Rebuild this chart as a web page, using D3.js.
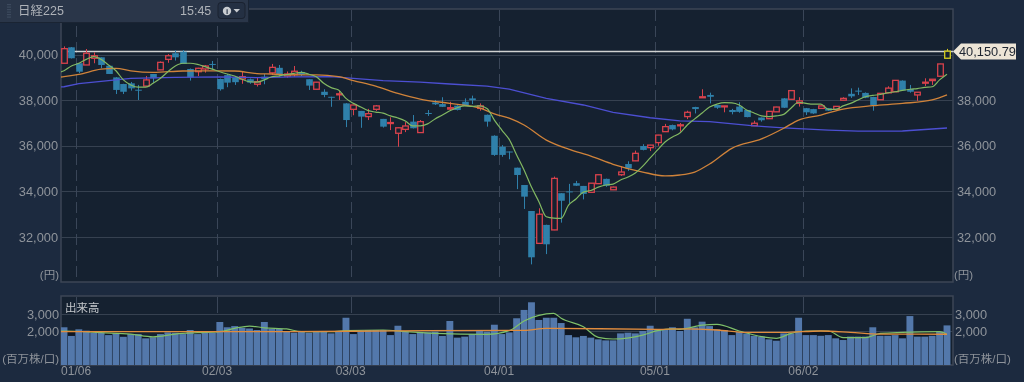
<!DOCTYPE html>
<html>
<head>
<meta charset="utf-8">
<style>
  html, body { margin: 0; padding: 0; background: #1c2a3f; }
  svg { display: block; filter: blur(0.3px); }
  text { font-family: "Liberation Sans", "Noto Sans CJK JP", sans-serif; }
</style>
<script src="https://cdn.jsdelivr.net/npm/d3@7"></script>
</head>
<body>
<svg id="chart" width="1024" height="382"></svg>
<script>
'use strict';

// candles, one per trading day (yen)
const opens = [39620,40320,39620,39545,39840,39880,39510,39000,38710,38740,38460,38620,39150,39330,39790,40060,40130,39370,39250,39370,39590,38930,39100,39000,38930,38920,38700,39030,39200,39420,39060,39120,39240,38920,38480,38370,38150,38250,37860,37600,37530,37280,37600,37180,36990,36550,36720,37060,36580,37440,37900,37830,37610,37760,37930,38080,37640,37360,36440,35960,35750,35040,34280,33140,31720,32530,32310,33920,34000,34360,34240,33960,34340,34550,34070,34730,35200,35340,35990,35920,36140,36620,36910,36890,37280,37700,38110,38230,37790,37730,37570,37720,37570,36880,37240,37190,37490,38080,38040,37860,37650,37610,37640,37650,37600,38000,38280,38420,38320,38140,38020,38320,38370,38860,38490,38230,38760,38860,39050,39840];
const highs = [40360,40330,39620,40245,40100,39880,39510,39010,38720,38800,38670,39060,39150,39700,40020,40190,40200,39390,39420,39545,39720,38950,39150,39040,39260,38950,38990,39150,39590,39545,39260,39500,39290,38920,38800,38480,38150,38400,37870,37800,37530,37620,37790,37180,37250,36810,37040,37350,37130,37570,38010,38130,37930,37780,38080,38200,37860,37370,36460,36030,35750,35040,34280,33140,33260,32540,34650,33920,34330,34460,34240,34360,34730,34560,34210,35100,35320,35790,36070,36040,36480,36960,36930,37000,37540,37710,38480,38330,37790,37750,37620,37910,37570,37100,37240,37520,37710,38090,38430,38130,37660,37620,37760,37660,37740,38130,38520,38550,38340,38150,38310,38610,38880,38870,38670,38360,38960,38930,39600,40250];
const lows = [39620,39830,39190,39545,39620,39400,39150,38270,38270,38420,38010,38620,38750,39320,39640,39740,39590,38860,39060,39210,39330,38420,38570,38670,38720,38720,38600,38700,39100,39030,38990,39030,39060,38450,38480,38130,37710,38010,36820,37340,36790,37130,37530,36800,36690,35960,36600,36760,36570,37310,37790,37700,37570,37550,37740,37830,37540,36840,35560,35520,35410,34100,33230,30800,31700,31250,32300,32630,33480,34240,33650,33950,34340,34200,34060,34680,34900,35330,35800,35770,36000,36610,36680,36620,37170,37420,38100,37860,37620,37470,37380,37450,37250,36870,37060,37180,37480,37660,38030,37720,37350,37400,37620,37530,37590,37990,38100,38230,38090,37540,38010,38310,38360,38420,38330,37970,38620,38670,39040,39830];
const closes = [40260,39840,39250,40060,39950,39545,39150,38450,38370,38520,38440,38890,38960,39660,39950,39880,39590,39000,39400,39500,39570,38480,38770,38790,39030,38770,38810,38920,39440,39120,39150,39270,39120,38640,38790,38230,38130,38280,37130,37790,37280,37410,37750,36840,37020,36790,36870,36770,37060,37410,37820,37710,37670,37570,37750,38000,37750,37060,35600,35600,35730,34720,33770,31110,33000,31680,34570,33590,33980,34250,33890,34360,34730,34250,34190,34850,35010,35670,35820,36030,36470,36840,36720,36920,37470,37610,38150,38150,37670,37750,37480,37490,37260,36990,37120,37510,37700,37670,38420,37970,37470,37420,37750,37540,37730,38080,38170,38400,38110,37790,38300,38530,38870,38430,38370,38350,38790,38920,39590,40150.79];

// moving averages as [day index, yen], the line runs on past the left edge
const ma5 = [[-1,39190],[0,39290],[1,39500],[2,39620],[3,39790],[4,39910],[5,39790],[6,39540],[7,39290],[8,38890],[9,38670],[10,38570],[11,38570],[12,38740],[13,38960],[14,39250],[15,39500],[16,39620],[17,39620],[18,39570],[19,39470],[20,39360],[21,39250],[22,39150],[23,39060],[24,38920],[25,38810],[26,38790],[27,38890],[28,39030],[29,39070],[30,39120],[31,39180],[32,39220],[33,39140],[34,39030],[35,38740],[36,38550],[37,38450],[38,38080],[39,37860],[40,37700],[41,37540],[42,37480],[43,37430],[44,37310],[45,37220],[46,37090],[47,36870],[48,36870],[49,36960],[50,37180],[51,37350],[52,37540],[53,37670],[54,37750],[55,37730],[56,37750],[57,37640],[58,37130],[59,36690],[60,36280],[61,35600],[62,34940],[63,34190],[64,33550],[65,32890],[66,32830],[67,32820],[68,33400],[69,33670],[70,33970],[71,34040],[72,34190],[73,34280],[74,34320],[75,34500],[76,34630],[77,34810],[78,35110],[79,35470],[80,35820],[81,36170],[82,36390],[83,36560],[84,36910],[85,37180],[86,37440],[87,37700],[88,37830],[89,37890],[90,37880],[91,37790],[92,37570],[93,37440],[94,37310],[95,37280],[96,37310],[97,37380],[98,37660],[99,37910],[100,37860],[101,37830],[102,37830],[103,37600],[104,37600],[105,37750],[106,37860],[107,38010],[108,38150],[109,38210],[110,38250],[111,38320],[112,38370],[113,38430],[114,38480],[115,38510],[116,38560],[117,38590],[118,38890],[119,39140]];
const ma25 = [[-1,39000],[0,39030],[2,39130],[5,39360],[7,39400],[9,39290],[12,39220],[16,39280],[19,39290],[23,39280],[26,39170],[28,39150],[31,39110],[34,39110],[37,39030],[39,38860],[42,38620],[45,38300],[48,38050],[52,37860],[56,37660],[58,37400],[60,37210],[62,36910],[65,36250],[68,35850],[71,35550],[74,35190],[78,34850],[81,34680],[83,34720],[85,34850],[87,35200],[90,35890],[94,36300],[97,36770],[99,37130],[102,37350],[105,37610],[109,37760],[113,37860],[117,38010],[119,38230]];
const ma75 = [[-1,38580],[0,38590],[2,38730],[7,38890],[9,38960],[15,39000],[21,39020],[26,38990],[31,39020],[36,39030],[39,38960],[43,38860],[48,38790],[52,38710],[57,38620],[60,38490],[65,38080],[70,37790],[74,37470],[79,37230],[83,37090],[87,37060],[93,36870],[97,36790],[103,36690],[107,36640],[113,36650],[119,36780]];

// volume, million shares
const volume = [2220,1710,2100,2020,1900,1900,1760,1860,1660,1820,1820,1570,1630,1820,1920,1900,1820,2060,1820,1900,1900,2530,2220,2290,2190,2150,2060,2530,2120,2120,1960,1900,2000,1900,1940,1940,1860,1960,2780,1820,2020,2060,2060,2060,1760,2310,1960,1820,1920,1920,1960,1710,2590,1610,1670,1820,2060,1960,2370,1820,1920,2750,3240,3690,2650,2780,2780,2470,1760,1630,1710,1610,1510,1450,1450,1860,1900,1860,2000,2310,2100,2100,2220,2000,2720,2220,2550,2290,2100,2060,1760,1960,1860,1720,1670,1510,1430,1860,1860,2780,1760,1760,1720,1760,1570,1470,1670,1670,1670,2220,1720,1720,1760,1570,2880,1670,1670,1720,1960,2330];
const volMa5 = [[-1,2000],[0,2000],[5,1900],[9,1820],[12,1660],[15,1820],[18,1900],[21,1960],[23,2160],[25,2290],[27,2190],[30,2120],[32,1960],[36,1960],[38,2020],[43,2060],[46,1960],[50,1860],[57,1800],[60,2020],[62,2590],[66,3040],[67,2750],[70,2250],[72,1630],[74,1530],[78,1760],[80,2020],[82,2120],[83,2100],[86,2350],[88,2390],[91,2000],[94,1670],[96,1570],[98,1860],[100,2000],[103,2000],[105,1610],[108,1610],[110,1860],[113,1920],[118,1960],[119,1800]];
const volMa25 = [[-1,1970],[10,1960],[30,1960],[45,2010],[62,2040],[65,2160],[80,2100],[83,2120],[88,2060],[92,1920],[97,1920],[102,2000],[106,1920],[110,1820],[119,1810]];

const priceTicks = [32000, 34000, 36000, 38000, 40000];
const rightPriceTicks = [32000, 34000, 36000, 38000];
const volumeTicks = [2000, 3000];
const dateLabels = ['01/06', '02/03', '03/03', '04/01', '05/01', '06/02'];
const dateIdx = [2, 21, 39, 59, 80, 100];
const lastPrice = 40150.79;

const BG_PLOT = '#152130';
const FRAME = '#3c4656';
const GRID = '#364150';
const LABEL = '#8f949b';
const RED = '#d8424c';
const BLUE = '#2f80aa';

const svg = d3.select('#chart');
const fmt = d3.format(',');

const left = 61, right = 953;
const x = d3.scaleLinear().domain([0, 119]).range([64, 947]);
const y = d3.scaleLinear().domain([30000, 42000]).range([282.6, 9]);
const yVol = d3.scaleLinear().domain([0, 4060]).range([365, 296]);

// panels
svg.append('rect').attr('x', left).attr('y', 9).attr('width', right - left).attr('height', 273)
    .attr('fill', BG_PLOT).attr('stroke', FRAME).attr('stroke-width', 1.5);
svg.append('rect').attr('x', left).attr('y', 296).attr('width', right - left).attr('height', 69)
    .attr('fill', BG_PLOT).attr('stroke', FRAME).attr('stroke-width', 1.5);

const defs = svg.append('defs');
defs.append('clipPath').attr('id', 'clipPrice').append('rect')
    .attr('x', left).attr('y', 9).attr('width', right - left).attr('height', 273);
defs.append('clipPath').attr('id', 'clipVol').append('rect')
    .attr('x', left).attr('y', 296).attr('width', right - left).attr('height', 69);

// grid
svg.append('g').selectAll('line').data(priceTicks).enter().append('line')
    .attr('x1', left).attr('x2', right)
    .attr('y1', d => Math.round(y(d)) + 0.5).attr('y2', d => Math.round(y(d)) + 0.5)
    .attr('stroke', GRID);
svg.append('g').selectAll('line').data(volumeTicks).enter().append('line')
    .attr('x1', left).attr('x2', right)
    .attr('y1', d => Math.round(yVol(d)) + 0.5).attr('y2', d => Math.round(yVol(d)) + 0.5)
    .attr('stroke', GRID);

// month separators sit a little left of their candle
svg.append('g').selectAll('line').data(dateIdx).enter().append('line')
    .attr('x1', d => Math.round(x(d) - 2.7) + 0.5).attr('x2', d => Math.round(x(d) - 2.7) + 0.5)
    .attr('y1', 10).attr('y2', 281)
    .attr('stroke', '#3a4658').attr('stroke-dasharray', '11,5');
svg.append('g').selectAll('line').data(dateIdx).enter().append('line')
    .attr('x1', d => Math.round(x(d) - 2.7) + 0.5).attr('x2', d => Math.round(x(d) - 2.7) + 0.5)
    .attr('y1', 297).attr('y2', 313)
    .attr('stroke', '#3a4658');

// volume
const barW = 6.9;
const volGroup = svg.append('g').attr('clip-path', 'url(#clipVol)');

// dark shade under the short volume average, shows over the low bars
volGroup.append('path')
    .attr('d', d3.area().x(d => x(d[0])).y0(yVol(0)).y1(d => yVol(d[1])).curve(d3.curveMonotoneX)(volMa5))
    .attr('fill', '#0e1622');

volGroup.selectAll('rect.vol').data(volume).enter().append('rect')
    .attr('class', 'vol')
    .attr('x', (d, i) => x(i) - barW / 2)
    .attr('y', d => yVol(d))
    .attr('width', barW)
    .attr('height', d => yVol(0) - yVol(d))
    .attr('fill', '#5378ab');

const lineVol = d3.line().x(d => x(d[0])).y(d => yVol(d[1])).curve(d3.curveMonotoneX);
volGroup.append('path').attr('d', lineVol(volMa5)).attr('fill', 'none').attr('stroke', '#7fc06a').attr('stroke-width', 1.2);
volGroup.append('path').attr('d', lineVol(volMa25)).attr('fill', 'none').attr('stroke', '#e08c3e').attr('stroke-width', 1.3);

// last price line
svg.append('line').attr('x1', left).attr('x2', right)
    .attr('y1', Math.round(y(lastPrice)) + 0.5).attr('y2', Math.round(y(lastPrice)) + 0.5)
    .attr('stroke', '#d0d2d1').attr('stroke-width', 1.3);

// candles
const candleW = 5.6;
const days = d3.range(opens.length);
const priceGroup = svg.append('g').attr('clip-path', 'url(#clipPrice)');
const isUp = i => closes[i] >= opens[i];
const colorOf = i => i === days.length - 1 ? '#d6cf1f' : (isUp(i) ? RED : BLUE);

const candle = priceGroup.selectAll('g.candle').data(days).enter().append('g').attr('class', 'candle');
candle.append('line')
    .attr('x1', i => Math.round(x(i)) + 0.5).attr('x2', i => Math.round(x(i)) + 0.5)
    .attr('y1', i => y(highs[i])).attr('y2', i => y(lows[i]))
    .attr('stroke', colorOf).attr('stroke-width', 1);
candle.append('rect')
    .attr('x', i => Math.round(x(i)) + 0.5 - (isUp(i) ? candleW : candleW + 1) / 2)
    .attr('y', i => y(Math.max(opens[i], closes[i])))
    .attr('width', i => isUp(i) ? candleW : candleW + 1)
    .attr('height', i => Math.max(1, Math.abs(y(opens[i]) - y(closes[i]))))
    .attr('fill', i => isUp(i) ? BG_PLOT : BLUE)
    .attr('stroke', i => isUp(i) ? colorOf(i) : 'none')
    .attr('stroke-width', 1.3);

const linePrice = d3.line().x(d => x(d[0])).y(d => y(d[1]));
priceGroup.append('path').attr('d', linePrice.curve(d3.curveLinear)(ma75))
    .attr('fill', 'none').attr('stroke', '#4c4fd2').attr('stroke-width', 1.3);
priceGroup.append('path').attr('d', linePrice.curve(d3.curveMonotoneX)(ma25))
    .attr('fill', 'none').attr('stroke', '#d0833a').attr('stroke-width', 1.3);
priceGroup.append('path').attr('d', linePrice.curve(d3.curveMonotoneX)(ma5))
    .attr('fill', 'none').attr('stroke', '#82b862').attr('stroke-width', 1.2);

// axes
function styleAxis(g, size) {
    g.select('.domain').remove();
    g.selectAll('line').remove();
    g.selectAll('text').attr('fill', LABEL).style('font-size', size + 'px').style('font-family', null);
}
svg.append('g').attr('transform', 'translate(58,0)')
    .call(d3.axisLeft(y).tickValues(priceTicks).tickFormat(fmt).tickSize(0).tickPadding(0))
    .call(styleAxis, 12.8);
svg.append('g').attr('transform', 'translate(957,0)')
    .call(d3.axisRight(y).tickValues(rightPriceTicks).tickFormat(fmt).tickSize(0).tickPadding(0))
    .call(styleAxis, 12.8);
svg.append('g').attr('transform', 'translate(59,0)')
    .call(d3.axisLeft(yVol).tickValues(volumeTicks).tickFormat(fmt).tickSize(0).tickPadding(0))
    .call(styleAxis, 12.8);
svg.append('g').attr('transform', 'translate(955,0)')
    .call(d3.axisRight(yVol).tickValues(volumeTicks).tickFormat(fmt).tickSize(0).tickPadding(0))
    .call(styleAxis, 12.8);

svg.append('g').selectAll('text').data(dateLabels).enter().append('text')
    .attr('x', (d, i) => x(dateIdx[i]) - 2.7).attr('y', 375)
    .attr('text-anchor', 'middle').attr('fill', LABEL).style('font-size', '12px')
    .text(d => d);

function label(tx, ty, str, anchor, size, color) {
    return svg.append('text').attr('x', tx).attr('y', ty).attr('text-anchor', anchor)
        .attr('fill', color).style('font-size', size + 'px').text(str);
}
label(59, 279, '(円)', 'end', 11.5, LABEL);
label(954, 279, '(円)', 'start', 11.5, LABEL);
label(59, 363, '(百万株/口)', 'end', 11.5, LABEL);
label(954, 363, '(百万株/口)', 'start', 11.5, LABEL);
label(65, 312, '出来高', 'start', 11.5, '#c5c8cc');

// last price flag
const flagY = Math.round(y(lastPrice)) + 0.5;
svg.append('path')
    .attr('d', d3.line()([[953, flagY], [961, flagY - 8], [1016, flagY - 8], [1016, flagY + 8], [961, flagY + 8]]) + 'Z')
    .attr('fill', '#ece4d6');
label(959, flagY + 4.5, fmt(lastPrice), 'start', 12.8, '#1d2430');

// header strip
const header = svg.append('g');
header.append('rect').attr('x', 0).attr('y', 0).attr('width', 248).attr('height', 22).attr('fill', '#2a3649');
header.append('line').attr('x1', 0).attr('x2', 248).attr('y1', 22.5).attr('y2', 22.5).attr('stroke', '#1a2433');
header.append('line').attr('x1', 248.5).attr('x2', 248.5).attr('y1', 0).attr('y2', 23).attr('stroke', '#1a2433');
header.selectAll('rect.grip').data(d3.range(6)).enter().append('rect')
    .attr('class', 'grip').attr('x', 7).attr('y', d => 4 + d * 2.5).attr('width', 4).attr('height', 1.2).attr('fill', '#3d4a5e');
header.append('text').attr('x', 18).attr('y', 14.5).attr('fill', '#aeb2b8').style('font-size', '12.5px').text('日経225');
header.append('text').attr('x', 180).attr('y', 14.5).attr('fill', '#aeb2b8').style('font-size', '12.5px').text('15:45');
header.append('rect').attr('x', 218).attr('y', 2.5).attr('width', 27).attr('height', 16).attr('rx', 3)
    .attr('fill', '#243043').attr('stroke', '#1a2230');
header.append('circle').attr('cx', 227).attr('cy', 11).attr('r', 4.2).attr('fill', '#c8ccd0');
header.append('text').attr('x', 227).attr('y', 14).attr('text-anchor', 'middle').attr('fill', '#243043')
    .style('font-size', '8px').style('font-weight', 'bold').text('i');
header.append('path').attr('d', d3.line()([[233.5, 9], [240, 9], [236.7, 12.5]]) + 'Z').attr('fill', '#c8ccd0');
</script>
</body>
</html>
